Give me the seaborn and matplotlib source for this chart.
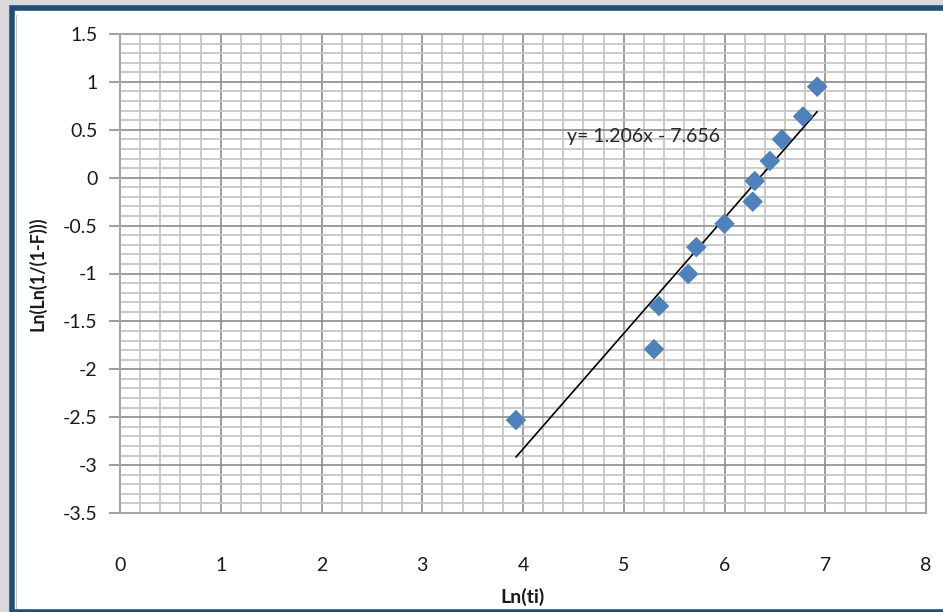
"""
Weibull plot: Ln(Ln(1/(1-F))) vs Ln(ti) with linear trend line
"""
import matplotlib
matplotlib.use("Agg")
import matplotlib.pyplot as plt
import seaborn as sns
import numpy as np
import pandas as pd
from matplotlib.patches import Rectangle
from matplotlib.ticker import MultipleLocator

# Data
ln_ti = [3.93, 5.30, 5.35, 5.64, 5.72, 6.00, 6.28, 6.30, 6.45, 6.57, 6.78, 6.92]
ln_ln_f = [-2.53, -1.79, -1.34, -1.005, -0.725, -0.48, -0.25, -0.035, 0.175, 0.40, 0.64, 0.95]

# Trend line coefficients (as printed on the chart)
slope = 1.206
intercept = -7.656
eq_label = "y= 1.206x - 7.656"

df = pd.DataFrame({"x": ln_ti, "y": ln_ln_f})

sns.set_theme(style="white")
plt.rcParams['font.family'] = ['Lato', 'DejaVu Sans']

fig = plt.figure(figsize=(9.43, 6.12), dpi=100, facecolor="#d9d9d9")

# White card with dark blue frame (behind the axes)
fig.patches.append(Rectangle((12 / 943, 0), 940 / 943, 1 - 8 / 612,
                             transform=fig.transFigure, facecolor="white",
                             edgecolor="#1f4e79", linewidth=4, zorder=-2))
fig.patches.append(Rectangle((16 / 943, 0.005), 0.0015, 1 - 18 / 612,
                             transform=fig.transFigure, facecolor="#bfbfbf",
                             edgecolor="none", zorder=-1))

ax = fig.add_axes([120 / 943, 1 - 513 / 612, 806 / 943, 479 / 612])
ax.set_facecolor("white")

ax.set_xlim(0, 8)
ax.set_ylim(-3.5, 1.5)
ax.xaxis.set_major_locator(MultipleLocator(1))
ax.xaxis.set_minor_locator(MultipleLocator(0.2))
ax.yaxis.set_major_locator(MultipleLocator(0.5))
ax.yaxis.set_minor_locator(MultipleLocator(0.1))
ax.grid(which="minor", color="#c6c6c6", linewidth=1.3, zorder=0)
ax.grid(which="major", color="#8c8c8c", linewidth=1.2, zorder=0)
ax.set_axisbelow(True)

for sp in ax.spines.values():
    sp.set_color("#a6a6a6")
    sp.set_linewidth(1.5)

# Trend line over the data range
xs = np.array([min(ln_ti), max(ln_ti)])
ax.plot(xs, slope * xs + intercept, color="black", linewidth=1.2, zorder=2)

sns.scatterplot(data=df, x="x", y="y", marker="D", s=110, color="#4f81bd",
                edgecolor="none", ax=ax, zorder=3)

ax.text(4.44, 0.43, eq_label, fontsize=14, color="#262626", ha="left", va="center")

ax.tick_params(axis="y", which="major", left=True, length=8, width=1.2,
               color="#8c8c8c", labelsize=14, labelcolor="#1a1a1a", pad=8)
ax.tick_params(axis="y", which="minor", left=False)
ax.tick_params(axis="x", which="both", bottom=False, labelsize=14,
               labelcolor="#1a1a1a", pad=26)
ax.set_xticks(range(0, 9))
ax.set_xticklabels([str(v) for v in range(0, 9)])
ax.set_yticks(np.arange(-3.5, 1.51, 0.5))
ax.set_yticklabels([f"{v:g}" for v in np.arange(-3.5, 1.51, 0.5)])

ax.set_xlabel("Ln(ti)", fontsize=14, fontweight="bold", color="#1a1a1a", labelpad=10)
ax.set_ylabel("Ln(Ln(1/(1-F)))", fontsize=13, fontweight="bold", color="#1a1a1a", labelpad=12)

plt.savefig("out.png", dpi=100, facecolor=fig.get_facecolor())
